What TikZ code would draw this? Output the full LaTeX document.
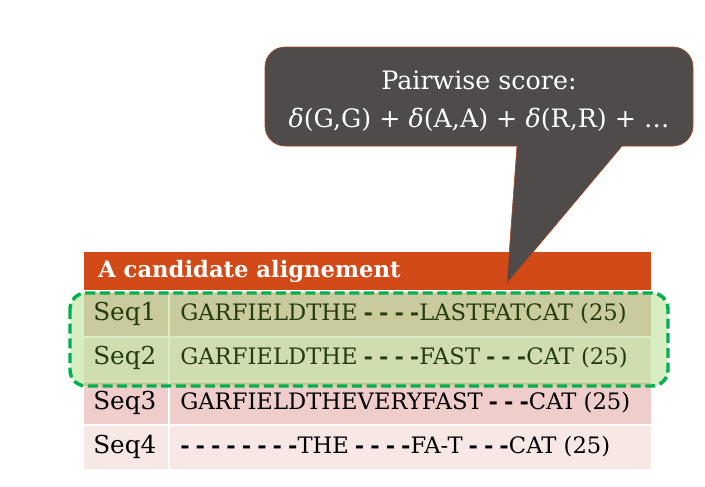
\documentclass[tikz,border=0pt]{standalone}
\usepackage{fontspec}
\setmainfont{DejaVu Serif}
\definecolor{bubblegray}{RGB}{79,75,74}
\definecolor{bubbleedge}{RGB}{170,70,30}
\definecolor{headred}{RGB}{209,74,24}
\definecolor{rowdark}{RGB}{238,205,202}
\definecolor{rowlight}{RGB}{247,232,230}
\definecolor{hlgreen}{RGB}{120,200,50}
\definecolor{hledge}{RGB}{0,176,80}
\newcommand\gp{\kern4.5pt\textbf{-}}
\begin{document}
\begin{tikzpicture}[x=0.75pt,y=-0.75pt,
  seqtext/.style={anchor=west,inner sep=0pt,font=\fontsize{17}{20}\selectfont},
  seqname/.style={anchor=west,inner sep=0pt,font=\fontsize{18.5}{20}\selectfont},
  headtext/.style={anchor=west,inner sep=0pt,text=white,font=\fontsize{17}{20}\selectfont\bfseries},
  bubbletext/.style={align=center,text=white,inner sep=0pt,font=\fontsize{19}{28.5}\selectfont},
  sep/.style={white,line width=1.5pt}]
\useasboundingbox (0,0) rectangle (705,486);
% table body
\fill[headred] (84,252) rectangle (651,290);
\fill[rowdark] (84,292) rectangle (651,337);
\fill[rowlight] (84,337) rectangle (651,381);
\fill[rowdark] (84,382) rectangle (651,424);
\fill[rowlight] (84,426) rectangle (651,469);
\draw[sep] (169,291) -- (169,469);
\draw[sep] (84,337) -- (651,337);
\draw[sep] (84,425) -- (651,425);
\node[headtext] (head) at (98,271) {A candidate alignement};
\node[seqname] (n1) at (93,314) {Seq1};
\node[seqname] (n2) at (93,358) {Seq2};
\node[seqname] (n3) at (93,403) {Seq3};
\node[seqname] (n4) at (93,447) {Seq4};
\node[seqtext] (s1) at (180,314) {GARFIELDTHE\gp\gp\gp\gp LASTFATCAT (25)};
\node[seqtext] (s2) at (180,358) {GARFIELDTHE\gp\gp\gp\gp FAST\gp\gp\gp CAT (25)};
\node[seqtext] (s3) at (180,403) {GARFIELDTHEVERYFAST\gp\gp\gp CAT (25)};
\node[seqtext] (s4) at (180,447) {\textbf{-}\gp\gp\gp\gp\gp\gp\gp THE\gp\gp\gp\gp FA-T\gp\gp\gp CAT (25)};
% highlight of the pair
\draw[rounded corners=12pt,fill=hlgreen,fill opacity=0.3,draw=hledge,line width=2.6pt,dash pattern=on 7.5pt off 3.5pt]
  (70,293) rectangle (668,386);
% callout
\draw[fill=bubblegray,draw=bubbleedge,line width=0.5pt]
  (517,146) [rounded corners=15pt] -- (265,146) -- (265,47) -- (693,47) -- (693,146)
  [sharp corners] -- (622,146) -- (507,283) -- cycle;
\node[bubbletext] (score) at (479,101) {Pairwise score:\\{\itshape δ}(G,G) + {\itshape δ}(A,A) + {\itshape δ}(R,R) + …};
\end{tikzpicture}
\end{document}
